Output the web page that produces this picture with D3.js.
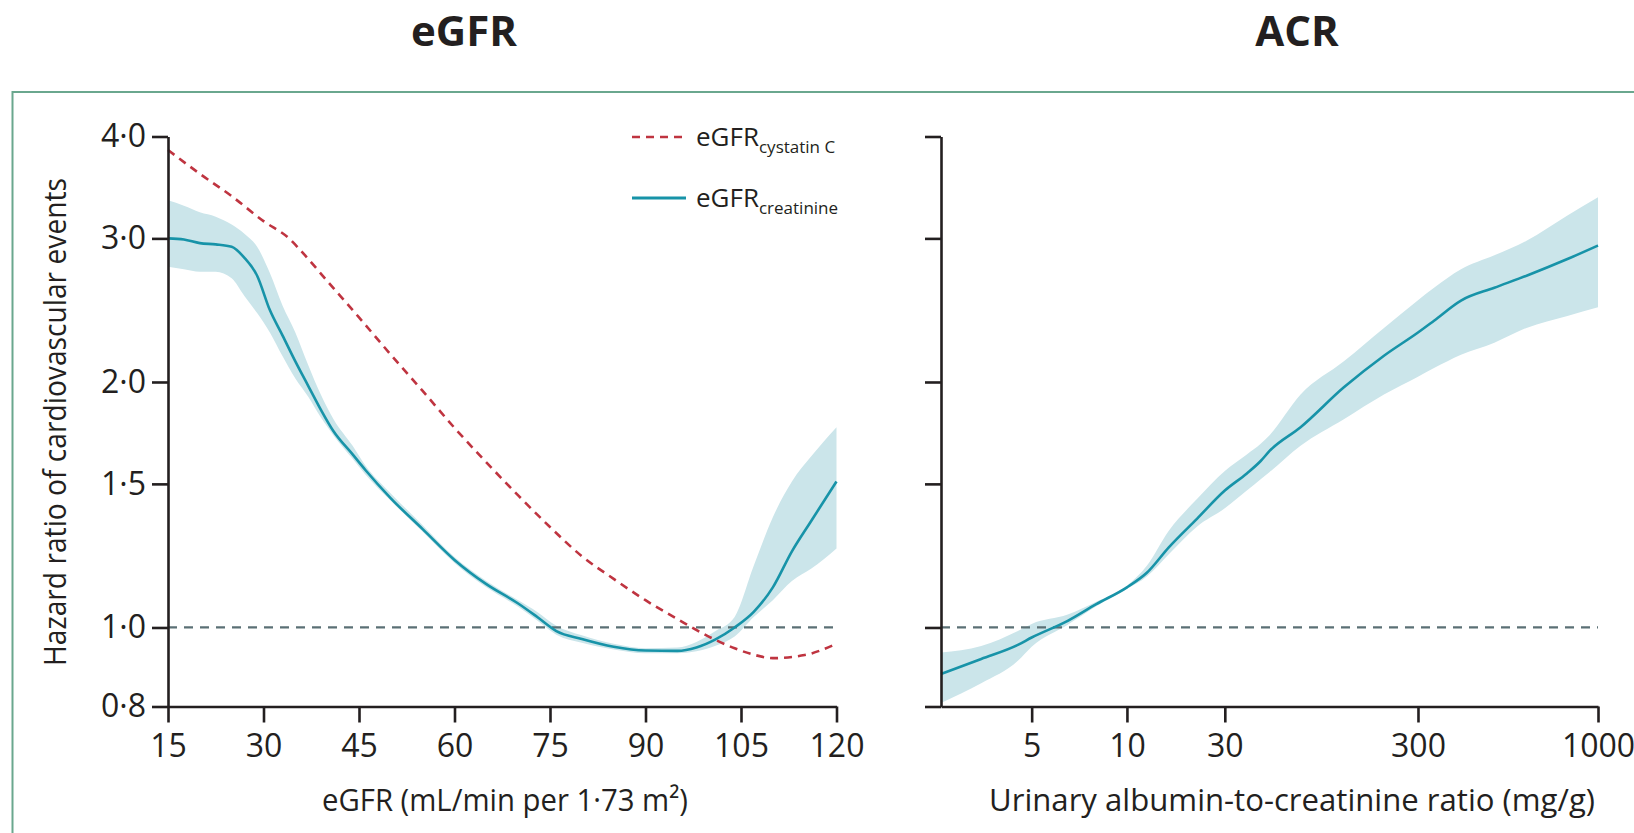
<!DOCTYPE html>
<html>
<head>
<meta charset="utf-8">
<script src="https://cdn.jsdelivr.net/npm/d3@7"></script>
<style>
  html, body { margin: 0; padding: 0; background: #ffffff; }
  svg { display: block; }
  text { font-family: "Open Sans", "Noto Sans", sans-serif; fill: #231f20; }
</style>
</head>
<body>
<svg id="chart" width="1634" height="833"></svg>
<script>
// ---------- DATA ----------
const panelTitles = ["eGFR", "ACR"];
const egfrTicks = [15, 30, 45, 60, 75, 90, 105, 120];
const hrTicks = [0.8, 1.0, 1.5, 2.0, 3.0, 4.0];
const hrTickLabels = ["0·8", "1·0", "1·5", "2·0", "3·0", "4·0"];
const acrTicks = [5, 10, 30, 300, 1000];
const acrTickLabels = ["5", "10", "30", "300", "1000"];
const acrAxisBreaks = [2.5, 5, 10, 30, 300, 1000];

// eGFR creatinine: estimate and 95% band
const creatEgfr = [15, 17.5, 20, 22.5, 25, 27, 29, 31, 33, 35, 37, 39, 41, 44, 46, 50, 55, 60, 65, 70, 73, 76, 80, 85, 90, 95, 98, 101, 104, 107, 110, 113, 116, 120];
const creatHR   = [3.00, 2.99, 2.96, 2.95, 2.93, 2.84, 2.70, 2.45, 2.28, 2.12, 1.98, 1.85, 1.74, 1.63, 1.56, 1.44, 1.32, 1.21, 1.13, 1.07, 1.03, 0.99, 0.968, 0.947, 0.937, 0.936, 0.945, 0.967, 1.00, 1.045, 1.12, 1.24, 1.35, 1.51];
const creatLo   = [2.77, 2.75, 2.73, 2.73, 2.68, 2.55, 2.43, 2.30, 2.15, 2.02, 1.92, 1.81, 1.72, 1.61, 1.54, 1.43, 1.31, 1.20, 1.12, 1.06, 1.02, 0.98, 0.958, 0.940, 0.930, 0.930, 0.935, 0.950, 0.975, 1.03, 1.08, 1.14, 1.18, 1.25];
const creatHi   = [3.34, 3.29, 3.23, 3.19, 3.12, 3.04, 2.93, 2.72, 2.48, 2.30, 2.10, 1.93, 1.80, 1.67, 1.58, 1.46, 1.335, 1.22, 1.14, 1.08, 1.045, 1.005, 0.978, 0.955, 0.943, 0.945, 0.960, 0.990, 1.03, 1.19, 1.365, 1.51, 1.62, 1.76];

// eGFR cystatin C: estimate only
const cysEgfr = [15, 20, 25, 30, 34, 36, 40, 45, 50, 55, 60, 65, 70, 75, 80, 85, 90, 95, 100, 104, 107, 110, 115, 120];
const cysHR   = [3.85, 3.60, 3.38, 3.15, 3.00, 2.89, 2.66, 2.40, 2.16, 1.95, 1.757, 1.594, 1.452, 1.328, 1.223, 1.147, 1.080, 1.024, 0.974, 0.943, 0.926, 0.917, 0.925, 0.955];

// ACR: estimate and 95% band
const acrVals = [2.5, 3.4, 4.5, 5, 6.5, 8, 10, 12.5, 16, 22, 30, 39, 46, 51, 74, 124, 200, 300, 334, 400, 500, 620, 815, 1000];
const acrHR   = [0.877, 0.915, 0.952, 0.972, 1.019, 1.068, 1.12, 1.167, 1.254, 1.36, 1.472, 1.545, 1.60, 1.645, 1.76, 1.97, 2.154, 2.30, 2.378, 2.517, 2.61, 2.70, 2.83, 2.94];
const acrLo   = [0.808, 0.854, 0.91, 0.947, 1.008, 1.062, 1.115, 1.155, 1.23, 1.33, 1.40, 1.472, 1.52, 1.55, 1.67, 1.80, 1.93, 2.03, 2.08, 2.16, 2.235, 2.33, 2.41, 2.47];
const acrHi   = [0.932, 0.949, 0.99, 1.01, 1.037, 1.075, 1.125, 1.19, 1.314, 1.438, 1.556, 1.63, 1.68, 1.72, 1.93, 2.12, 2.33, 2.52, 2.61, 2.75, 2.86, 2.98, 3.20, 3.37];

// ---------- LAYOUT ----------
const svg = d3.select("#chart");
const C = {
  axis: "#231f20", teal: "#1793a8", band: "#cbe5ea", red: "#bf3440",
  ref: "#5b7075", frame: "#6aa78e", bg: "#ffffff"
};
const plotTop = 136.5, plotBottom = 706.5;
const L = { x0: 168, x1: 836.5 };
const R = { x0: 941, x1: 1598 };
const acrFrac = [0, 0.138, 0.283, 0.432, 0.726, 1];

// frame
svg.append("rect").attr("x", 12.5).attr("y", 92).attr("width", 1640).attr("height", 760)
  .attr("fill", C.bg).attr("stroke", C.frame).attr("stroke-width", 2);

// titles
svg.append("text").attr("x", 464).attr("y", 46).attr("text-anchor", "middle")
  .attr("font-size", 42).attr("font-weight", 700).text(panelTitles[0]);
svg.append("text").attr("x", 1297).attr("y", 46).attr("text-anchor", "middle")
  .attr("font-size", 42).attr("font-weight", 700).text(panelTitles[1]);

// scales
const y = d3.scaleLog().domain([0.8, 4.0]).range([plotBottom, plotTop]);
const xL = d3.scaleLinear().domain([15, 120]).range([L.x0, L.x1]);
const acrPos = d3.scaleLinear()
  .domain(acrAxisBreaks.map(Math.log10))
  .range(acrFrac.map(f => R.x0 + f * (R.x1 - R.x0)));
const xR = v => acrPos(Math.log10(v));

function styleAxis(g) {
  g.selectAll("path.domain").attr("stroke", C.axis).attr("stroke-width", 2.6);
  g.selectAll(".tick line").attr("stroke", C.axis).attr("stroke-width", 2.6);
  g.selectAll(".tick text").attr("font-size", 32).attr("fill", C.axis)
    .attr("font-family", "'Open Sans', sans-serif");
}

// ---------- LEFT PANEL ----------
const gL = svg.append("g");
const bandL = d3.area().curve(d3.curveMonotoneX)
  .x((d, i) => xL(creatEgfr[i])).y0((d, i) => y(creatLo[i])).y1((d, i) => y(creatHi[i]));
gL.append("path").datum(creatEgfr).attr("d", bandL).attr("fill", C.band);

gL.append("line").attr("x1", L.x0).attr("x2", L.x1).attr("y1", y(1)).attr("y2", y(1))
  .attr("stroke", C.ref).attr("stroke-width", 2.2).attr("stroke-dasharray", "9,7");

const lineCreat = d3.line().curve(d3.curveMonotoneX)
  .x((d, i) => xL(creatEgfr[i])).y((d, i) => y(creatHR[i]));
gL.append("path").datum(creatEgfr).attr("d", lineCreat).attr("fill", "none")
  .attr("stroke", C.teal).attr("stroke-width", 2.6);

const lineCys = d3.line().curve(d3.curveMonotoneX)
  .x((d, i) => xL(cysEgfr[i])).y((d, i) => y(cysHR[i]));
gL.append("path").datum(cysEgfr).attr("d", lineCys).attr("fill", "none")
  .attr("stroke", C.red).attr("stroke-width", 2.6).attr("stroke-dasharray", "8,6");

const axYL = gL.append("g").attr("transform", `translate(${L.x0},0)`)
  .call(d3.axisLeft(y).tickValues(hrTicks).tickFormat((d, i) => hrTickLabels[i])
    .tickSize(16).tickSizeOuter(0).tickPadding(6));
styleAxis(axYL);
const axXL = gL.append("g").attr("transform", `translate(0,${plotBottom})`)
  .call(d3.axisBottom(xL).tickValues(egfrTicks).tickSize(16).tickSizeOuter(0).tickPadding(12));
styleAxis(axXL);

// axis titles
svg.append("text").attr("x", 505).attr("y", 811).attr("text-anchor", "middle")
  .attr("font-size", 31).attr("textLength", 366).attr("lengthAdjust", "spacingAndGlyphs")
  .text("eGFR (mL/min per 1·73 m²)");
svg.append("text").attr("transform", "translate(66,422) rotate(-90)").attr("text-anchor", "middle")
  .attr("font-size", 31).attr("textLength", 488).attr("lengthAdjust", "spacingAndGlyphs")
  .text("Hazard ratio of cardiovascular events");

// legend
const legend = svg.append("g");
legend.append("line").attr("x1", 632).attr("x2", 686).attr("y1", 137).attr("y2", 137)
  .attr("stroke", C.red).attr("stroke-width", 2.6).attr("stroke-dasharray", "8,6");
legend.append("line").attr("x1", 632).attr("x2", 686).attr("y1", 198).attr("y2", 198)
  .attr("stroke", C.teal).attr("stroke-width", 2.8);
const t1 = legend.append("text").attr("x", 696).attr("y", 146).attr("font-size", 26);
t1.append("tspan").text("eGFR");
t1.append("tspan").attr("dy", 7).attr("font-size", 17).text("cystatin C");
const t2 = legend.append("text").attr("x", 696).attr("y", 207).attr("font-size", 26);
t2.append("tspan").text("eGFR");
t2.append("tspan").attr("dy", 7).attr("font-size", 17).text("creatinine");

// ---------- RIGHT PANEL ----------
const gR = svg.append("g");
const bandR = d3.area().curve(d3.curveMonotoneX)
  .x((d, i) => xR(acrVals[i])).y0((d, i) => y(acrLo[i])).y1((d, i) => y(acrHi[i]));
gR.append("path").datum(acrVals).attr("d", bandR).attr("fill", C.band);

gR.append("line").attr("x1", R.x0).attr("x2", R.x1).attr("y1", y(1)).attr("y2", y(1))
  .attr("stroke", C.ref).attr("stroke-width", 2.2).attr("stroke-dasharray", "9,7");

const lineAcr = d3.line().curve(d3.curveMonotoneX)
  .x((d, i) => xR(acrVals[i])).y((d, i) => y(acrHR[i]));
gR.append("path").datum(acrVals).attr("d", lineAcr).attr("fill", "none")
  .attr("stroke", C.teal).attr("stroke-width", 2.6);

const axYR = gR.append("g").attr("transform", `translate(${R.x0},0)`)
  .call(d3.axisLeft(y).tickValues(hrTicks).tickFormat("").tickSize(16).tickSizeOuter(0));
styleAxis(axYR);
const axXR = gR.append("g").attr("transform", `translate(0,${plotBottom})`)
  .call(d3.axisBottom(acrPos).tickValues(acrTicks.map(Math.log10))
    .tickFormat((d, i) => acrTickLabels[i]).tickSize(16).tickSizeOuter(0).tickPadding(12));
styleAxis(axXR);

svg.append("text").attr("x", 1292).attr("y", 811).attr("text-anchor", "middle")
  .attr("font-size", 31).attr("textLength", 606).attr("lengthAdjust", "spacingAndGlyphs")
  .text("Urinary albumin-to-creatinine ratio (mg/g)");
</script>
</body>
</html>
